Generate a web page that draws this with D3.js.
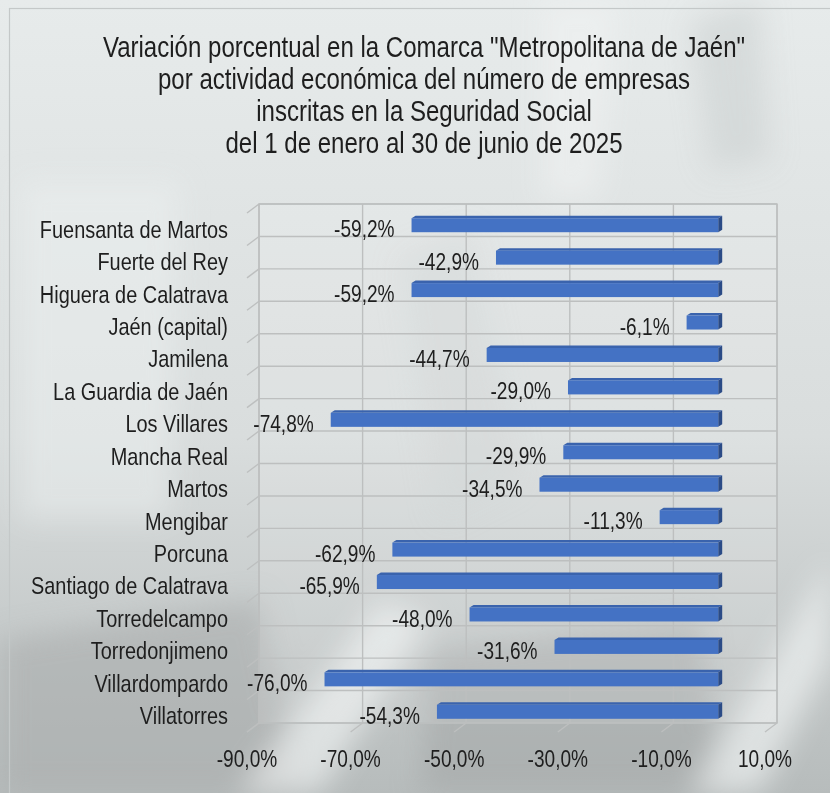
<!DOCTYPE html>
<html><head><meta charset="utf-8">
<script src="https://cdn.jsdelivr.net/npm/d3@7"></script>
<style>
html,body{margin:0;padding:0;background:#dde1e1;}
svg{display:block;}
text{font-family:"Liberation Sans Narrow","Arial Narrow","Liberation Sans",Arial,sans-serif;fill:#1e1e1e;}
</style></head><body>
<svg id="chart" width="830" height="793"></svg>
<script>
// Municipios de la comarca y su variación (%) de empresas inscritas
const municipios = [
  "Fuensanta de Martos","Fuerte del Rey","Higuera de Calatrava","Jaén (capital)",
  "Jamilena","La Guardia de Jaén","Los Villares","Mancha Real","Martos","Mengibar",
  "Porcuna","Santiago de Calatrava","Torredelcampo","Torredonjimeno","Villardompardo","Villatorres"
];
const variacion = [-59.2,-42.9,-59.2,-6.1,-44.7,-29.0,-74.8,-29.9,-34.5,-11.3,-62.9,-65.9,-48.0,-31.6,-76.0,-54.3];
const ejeTicks = [-90,-70,-50,-30,-10,10];
const titulo = [
  "Variación porcentual en la Comarca \"Metropolitana de Jaén\"",
  "por actividad económica del número de empresas",
  "inscritas en la Seguridad Social",
  "del 1 de enero al 30 de junio de 2025"
];

const es = d3.formatLocale({decimal:",", thousands:".", grouping:[3], currency:["","€"], minus:"-"});
const pct = v => es.format(".1f")(v) + "%";

const svg = d3.select("#chart");
const W = 830, H = 793;

// Letra estrecha: si no hay una fuente "Narrow" instalada se comprime la normal
const probe = svg.append("text").style("font-size","20px").text("Fuensanta de Martos");
const probeW = probe.node().getComputedTextLength();
probe.remove();
const narrow = probeW / (9.449 * 20) < 0.9 ? 1 : 0.83;
const place = (px, py) => `translate(${px},${py}) scale(${narrow},1)`;

// ---- fondo difuminado ----
const defs = svg.append("defs");
const g1 = defs.append("linearGradient").attr("id","bg").attr("x1",0).attr("y1",0).attr("x2",0).attr("y2",1);
g1.append("stop").attr("offset","0").attr("stop-color","#e7ebeb");
g1.append("stop").attr("offset","0.55").attr("stop-color","#d9dddd");
g1.append("stop").attr("offset","1").attr("stop-color","#b7bcbc");
defs.append("filter").attr("id","soft").attr("x","-30%").attr("y","-30%").attr("width","160%").attr("height","160%")
  .append("feGaussianBlur").attr("stdDeviation",14);
svg.append("rect").attr("width",W).attr("height",H).attr("fill","url(#bg)");
const deco = svg.append("g").attr("filter","url(#soft)");
const shapes = [
  {d:"M0,640 L260,600 L300,793 L0,793Z", c:"#a7acac", o:0.55},
  {d:"M430,650 L700,620 L720,793 L420,793Z", c:"#9fa4a4", o:0.5},
  {d:"M240,793 L380,600 L430,620 L320,793Z", c:"#f4f6f6", o:0.6},
  {d:"M690,793 L830,560 L830,660 L760,793Z", c:"#f4f6f6", o:0.6},
  {d:"M540,0 L620,0 L600,200 L540,200Z", c:"#f1f3f3", o:0.5},
  {d:"M690,20 L760,0 L770,160 L710,170Z", c:"#c6caca", o:0.45},
  {d:"M20,180 L180,180 L170,520 L20,520Z", c:"#eef1f1", o:0.45},
  {d:"M400,260 L470,230 L520,480 L440,520Z", c:"#c9cdcd", o:0.35}
];
deco.selectAll("path").data(shapes).join("path")
  .attr("d",d=>d.d).attr("fill",d=>d.c).attr("opacity",d=>d.o);

svg.append("rect").attr("x",9.5).attr("y",8.5).attr("width",840).attr("height",800)
  .attr("fill","none").attr("stroke","#c4c8c8").attr("stroke-width",1.2);

// ---- título ----
svg.append("g").selectAll("text").data(titulo).join("text")
  .attr("transform",(d,i)=>place(424, 57+i*32))
  .attr("text-anchor","middle").style("font-size","29px")
  .text(d=>d);

// ---- escalas (pared del fondo) y profundidad 3D ----
const x = d3.scaleLinear().domain([ejeTicks[0], ejeTicks[ejeTicks.length-1]]).range([259,777]);
const y = d3.scaleBand().domain(municipios).range([204,723]).paddingInner(0);
const depth = {dx:-12, dy:9};          // desplazamiento de la cara frontal del suelo
const barFront = {dx:-7, dy:5};        // cara frontal de la barra
const barBack = {dx:4, dy:-2.5};       // profundidad de la barra
const barH = 14;

const grid = svg.append("g").attr("stroke","#bdbfbf").attr("stroke-width",1.4).attr("fill","none");
grid.append("rect").attr("x",x.range()[0]).attr("y",y.range()[0])
  .attr("width",x.range()[1]-x.range()[0]).attr("height",y.range()[1]-y.range()[0])
  .attr("fill","rgba(255,255,255,0.12)");
const bounds = municipios.map(m=>y(m)).concat([y.range()[1]]);
grid.selectAll("line.h").data(bounds).join("line").attr("class","h")
  .attr("x1",x.range()[0]).attr("x2",x.range()[1]).attr("y1",d=>d).attr("y2",d=>d);
grid.selectAll("line.v").data(ejeTicks).join("line").attr("class","v")
  .attr("x1",d=>x(d)).attr("x2",d=>x(d)).attr("y1",y.range()[0]).attr("y2",y.range()[1]);
// marcas oblicuas del suelo y del lateral
grid.selectAll("line.f").data(ejeTicks).join("line").attr("class","f")
  .attr("x1",d=>x(d)).attr("y1",y.range()[1]).attr("x2",d=>x(d)+depth.dx).attr("y2",y.range()[1]+depth.dy);
grid.selectAll("line.s").data(bounds).join("line").attr("class","s")
  .attr("x1",x.range()[0]).attr("y1",d=>d).attr("x2",x.range()[0]+depth.dx).attr("y2",d=>d+depth.dy);

// ---- barras 3D ----
const bars = svg.append("g");
const data = municipios.map((m,i)=>({m, v:variacion[i]}));
data.forEach(d=>{
  const yc = y(d.m) + y.bandwidth()/2 + barFront.dy;
  const xa = x(d.v) + barFront.dx, xb = x(0) + barFront.dx;
  const t = yc - barH/2, b = yc + barH/2;
  const bx = barBack.dx, by = barBack.dy;
  bars.append("polygon").attr("points",[[xa,t],[xb,t],[xb+bx,t+by],[xa+bx,t+by]].join(" ")).attr("fill","#3a63ad");
  bars.append("polygon").attr("points",[[xb,t],[xb+bx,t+by],[xb+bx,b+by],[xb,b]].join(" ")).attr("fill","#2b4b86");
  bars.append("rect").attr("x",xa).attr("y",t).attr("width",xb-xa).attr("height",barH).attr("fill","#4472c4");
});

// ---- etiquetas de valor ----
svg.append("g").selectAll("text").data(data).join("text")
  .attr("transform",d=>place(x(d.v)+barFront.dx-17, y(d.m)+y.bandwidth()/2+depth.dy))
  .attr("dy","0.35em").attr("text-anchor","end").style("font-size","23px")
  .text(d=>pct(d.v));

// ---- categorías ----
svg.append("g").selectAll("text").data(municipios).join("text")
  .attr("transform",d=>place(228, y(d)+y.bandwidth()/2+depth.dy))
  .attr("dy","0.35em").attr("text-anchor","end").style("font-size","24px")
  .text(d=>d);

// ---- eje X ----
svg.append("g").selectAll("text").data(ejeTicks).join("text")
  .attr("transform",d=>place(x(d)+depth.dx, 767))
  .attr("text-anchor","middle").style("font-size","23px")
  .text(d=>pct(d));
</script>
</body></html>
